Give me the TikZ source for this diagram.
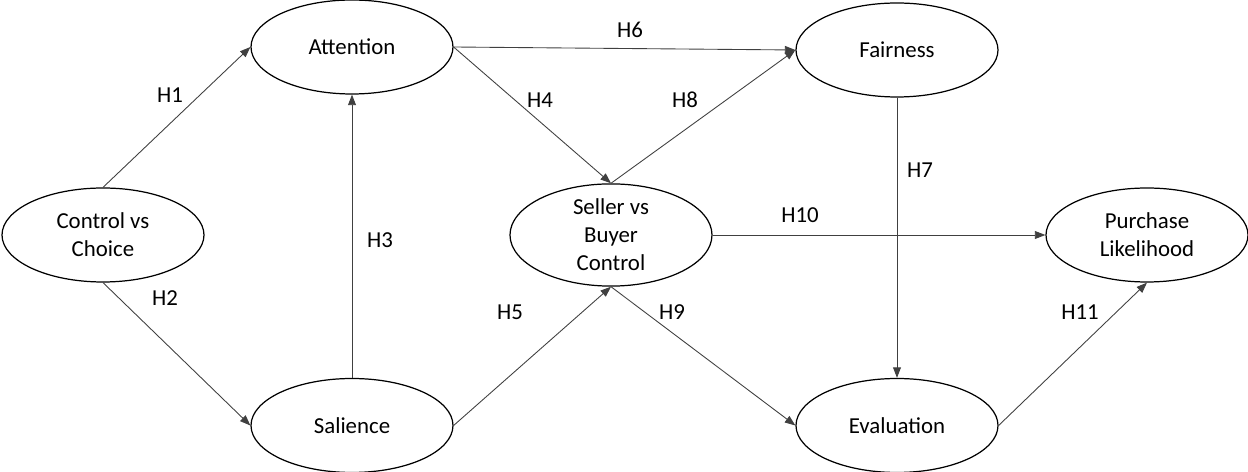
\documentclass[tikz,border=0pt]{standalone}
\usepackage{fontspec}
\setmainfont{Carlito}
\usetikzlibrary{shapes.geometric,arrows.meta}

\begin{document}
\begin{tikzpicture}[
    every node/.style={font=\fontsize{13}{16}\selectfont},
    construct/.style={ellipse, draw, line width=0.7pt, minimum width=4.04cm, minimum height=1.88cm, inner sep=0pt, align=center},
    path/.style={-{Triangle[length=6pt,width=4.5pt]}, black!75, line width=0.5pt},
    hyp/.style={inner sep=1pt}
  ]
    \useasboundingbox (0,0) rectangle (24.96,9.44);
    % constructs
    \node[construct] (ctrl) at (2.06,4.74) {Control vs\\Choice};
    \node[construct] (att) at (7.04,8.50) {Attention};
    \node[construct] (sal) at (7.04,0.93) {Salience};
    \node[construct] (sel) at (12.22,4.74) {Seller vs\\Buyer\\Control};
    \node[construct] (fair) at (17.94,8.44) {Fairness};
    \node[construct] (pur) at (22.94,4.74) {Purchase\\Likelihood};
    \node[construct] (eval) at (17.94,0.93) {Evaluation};
    % hypothesised paths
    \draw[path] (ctrl.north) -- (att.west);
    \draw[path] (ctrl.south) -- (sal.west);
    \draw[path] (sal.north) -- (att.south);
    \draw[path] (att.east) -- (sel.north);
    \draw[path] (sal.east) -- (sel.south);
    \draw[path] (att.east) -- (fair.west);
    \draw[path] (fair.south) -- (eval.north);
    \draw[path] (sel.north) -- (fair.west);
    \draw[path] (sel.south) -- (eval.west);
    \draw[path] (sel.east) -- (pur.west);
    \draw[path] (eval.east) -- (pur.south);
    % labels
    \node[hyp] (h1) at (3.40,7.54) {H1};
    \node[hyp] (h2) at (3.30,3.48) {H2};
    \node[hyp] (h3) at (7.60,4.64) {H3};
    \node[hyp] (h4) at (10.80,7.44) {H4};
    \node[hyp] (h5) at (10.20,3.20) {H5};
    \node[hyp] (h6) at (12.60,8.84) {H6};
    \node[hyp] (h7) at (18.40,6.04) {H7};
    \node[hyp] (h8) at (13.70,7.44) {H8};
    \node[hyp] (h9) at (13.44,3.20) {H9};
    \node[hyp] (h10) at (16.00,5.14) {H10};
    \node[hyp] (h11) at (21.60,3.20) {H11};
\end{tikzpicture}
\end{document}
